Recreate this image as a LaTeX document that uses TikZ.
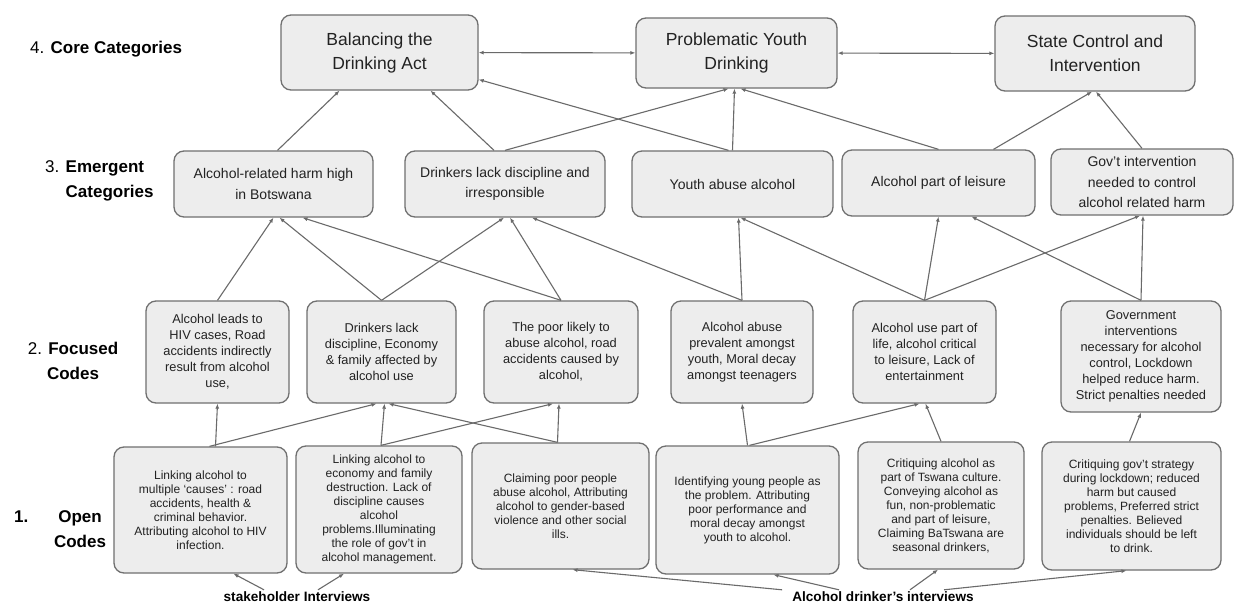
\documentclass[tikz,border=0pt]{standalone}
\usepackage{fontspec}
\setmainfont{Liberation Sans}
\usetikzlibrary{arrows.meta}
\definecolor{boxfill}{HTML}{EDEDED}
\definecolor{boxline}{HTML}{707070}
\definecolor{arrcol}{HTML}{6A6A6A}
\definecolor{txt}{HTML}{222222}
\tikzset{
  box/.style={draw=boxline, fill=boxfill, rounded corners=10pt, line width=1.3pt, align=center, inner sep=0pt, text=txt},
  corebox/.style={box, font=\fontsize{17.5}{24}\selectfont},
  emgbox/.style={box, font=\fontsize{14}{20.5}\selectfont},
  focbox/.style={box, font=\fontsize{12.8}{16}\selectfont},
  openbox/.style={box, font=\fontsize{12}{14}\selectfont},
  rowlabel/.style={font=\fontsize{17}{25}\selectfont, text=black, inner sep=0pt},
  srclabel/.style={font=\fontsize{13.6}{16}\selectfont\bfseries, text=black, inner sep=2pt},
  arr/.style={draw=arrcol, line width=1.1pt, -{Latex[length=5pt,width=4pt]}},
  biarr/.style={draw=arrcol, line width=1.1pt, {Latex[length=5pt,width=4pt]}-{Latex[length=5pt,width=4pt]}}
}
\begin{document}
\begin{tikzpicture}[x=1pt,y=1pt]
\useasboundingbox (0,0) rectangle (1234,-605);
\fill[white] (0,0) rectangle (1234,-605);

% row labels
\node[rowlabel, anchor=west] (L4) at (30,-49) {4. \textbf{Core Categories}};
\node[rowlabel, anchor=west, align=left] (L3) at (45,-181) {3. \textbf{Emergent}\\\phantom{3. }\textbf{Categories}};
\node[rowlabel, align=center] (L2) at (73,-361) {2. \textbf{Focused}\\\textbf{Codes}};
\node[rowlabel, anchor=west] (L1n) at (14,-517) {\textbf{1.}};
\node[rowlabel, align=center] (L1) at (80,-529) {\textbf{Open}\\\textbf{Codes}};

% core categories
\node[corebox, minimum width=197pt, minimum height=75pt] (B) at (379.5,-52.5) {Balancing the\\Drinking Act};
\node[corebox, minimum width=201pt, minimum height=70pt] (P) at (736.5,-53) {Problematic Youth\\Drinking};
\node[corebox, minimum width=200pt, minimum height=75pt] (S) at (1095,-53.5) {State Control and\\Intervention};

% emergent categories
\node[emgbox, minimum width=199pt, minimum height=66pt] (E1) at (273.5,-184) {Alcohol-related harm high\\in Botswana};
\node[emgbox, minimum width=200pt, minimum height=66pt] (E2) at (505,-184) {Drinkers lack discipline and\\irresponsible};
\node[emgbox, minimum width=201pt, minimum height=66pt] (E3) at (732.5,-184) {Youth abuse alcohol};
\node[emgbox, minimum width=193pt, minimum height=66pt] (E4) at (938.5,-183) {Alcohol part of leisure};
\node[emgbox, minimum width=182pt, minimum height=66pt] (E5) at (1142,-182) {Gov't intervention\\needed to control\\alcohol related harm};

% focused codes
\node[focbox, minimum width=143pt, minimum height=102pt] (F1) at (217.5,-352) {Alcohol leads to\\HIV cases, Road\\accidents indirectly\\result from alcohol\\use,};
\node[focbox, minimum width=149pt, minimum height=102pt] (F2) at (381.5,-352) {Drinkers lack\\discipline, Economy\\\& family affected by\\alcohol use};
\node[focbox, minimum width=154pt, minimum height=102pt] (F3) at (561,-352) {The poor likely to\\abuse alcohol, road\\accidents caused by\\alcohol,};
\node[focbox, minimum width=142pt, minimum height=102pt] (F4) at (742,-352) {Alcohol abuse\\prevalent amongst\\youth, Moral decay\\amongst teenagers};
\node[focbox, minimum width=143pt, minimum height=102pt] (F5) at (924.5,-352) {Alcohol use part of\\life, alcohol critical\\to leisure, Lack of\\entertainment};
\node[focbox, minimum width=160pt, minimum height=111pt] (F6) at (1141,-356.5) {Government\\interventions\\necessary for alcohol\\control, Lockdown\\helped reduce harm.\\Strict penalties needed};

% open codes
\node[openbox, minimum width=173pt, minimum height=126pt] (O1) at (200.5,-510) {Linking alcohol to\\multiple ‘causes’ : road\\accidents, health \&\\criminal behavior.\\Attributing alcohol to HIV\\infection.};
\node[openbox, minimum width=166pt, minimum height=127pt] (O2) at (379,-509.5) {Linking alcohol to\\economy and family\\destruction. Lack of\\discipline causes\\alcohol\\problems.Illuminating\\the role of gov't in\\alcohol management.};
\node[openbox, minimum width=177pt, minimum height=126pt] (O3) at (560.5,-506) {Claiming poor people\\abuse alcohol, Attributing\\alcohol to gender-based\\violence and other social\\ills.};
\node[openbox, minimum width=183pt, minimum height=128pt] (O4) at (747.5,-510) {Identifying young people as\\the problem. Attributing\\poor performance and\\moral decay amongst\\youth to alcohol.};
\node[openbox, minimum width=166pt, minimum height=127pt] (O5) at (941,-505.5) {Critiquing alcohol as\\part of Tswana culture.\\Conveying alcohol as\\fun, non-problematic\\and part of leisure,\\Claiming BaTswana are\\seasonal drinkers,};
\node[openbox, minimum width=179pt, minimum height=128pt] (O6) at (1131.5,-506) {Critiquing gov't strategy\\during lockdown; reduced\\harm but caused\\problems, Preferred strict\\penalties. Believed\\individuals should be left\\to drink.};

% source labels
\node[srclabel] (SH) at (297,-597) {stakeholder Interviews};
\node[srclabel] (AD) at (883,-597) {Alcohol drinker's interviews};

% core links
\draw[biarr] (B) -- (P);
\draw[biarr] (P) -- (S);

% emergent -> core
\draw[arr] ([xshift=4pt]E1.north) -- ([xshift=-40pt]B.south);
\draw[arr] ([xshift=-11pt]E2.north) -- ([xshift=51pt]B.south);
\draw[arr] (E2.north) -- ([xshift=-8pt]P.south);
\draw[arr] ([xshift=-4pt]E3.north) -- ([yshift=-27pt]B.east);
\draw[arr] (E3.north) -- ([xshift=-2pt]P.south);
\draw[arr] (E4.north) -- ([xshift=4pt]P.south);
\draw[arr] ([xshift=55pt]E4.north) -- ([xshift=-3pt]S.south);
\draw[arr] (E5.north) -- ([xshift=1pt]S.south);

% focused -> emergent
\draw[arr] (F1.north) -- (E1.south);
\draw[arr] (F2.north) -- ([xshift=6pt]E1.south);
\draw[arr] (F3.north) -- ([xshift=29pt]E1.south);
\draw[arr] (F2.north) -- ([xshift=-1pt]E2.south);
\draw[arr] (F3.north) -- ([xshift=5pt]E2.south);
\draw[arr] (F4.north) -- ([xshift=27pt]E2.south);
\draw[arr] (F4.north) -- ([xshift=6pt]E3.south);
\draw[arr] (F5.north) -- ([xshift=8pt]E3.south);
\draw[arr] (F5.north) -- (E4.south);
\draw[arr] (F6.north) -- ([xshift=33pt]E4.south);
\draw[arr] (F5.north) -- ([xshift=-2pt]E5.south);
\draw[arr] (F6.north) -- ([xshift=1pt]E5.south);

% open -> focused
\draw[arr] ([xshift=15pt]O1.north) -- (F1.south);
\draw[arr] ([xshift=9pt]O1.north) -- ([xshift=-5pt]F2.south);
\draw[arr] ([xshift=2pt]O2.north) -- ([xshift=3pt]F2.south);
\draw[arr] ([xshift=2pt]O2.north) -- ([xshift=-8pt]F3.south);
\draw[arr] ([xshift=-3pt]O3.north) -- ([xshift=7pt]F2.south);
\draw[arr] ([xshift=-3pt]O3.north) -- ([xshift=-2pt]F3.south);
\draw[arr] (O4.north) -- (F4.south);
\draw[arr] ([xshift=2pt]O4.north) -- ([xshift=-5pt]F5.south);
\draw[arr] (O5.north) -- ([xshift=1pt]F5.south);
\draw[arr] ([xshift=-2pt]O6.north) -- (F6.south);

% sources -> open
\draw[arr] ([xshift=-33pt]SH.north) -- ([xshift=33pt]O1.south);
\draw[arr] ([xshift=21pt]SH.north) -- ([xshift=-35pt]O2.south);
\draw[arr] ([xshift=-8pt]AD.north west) -- ([xshift=12pt]O3.south);
\draw[arr] ([xshift=-44pt]AD.north) -- ([xshift=26pt]O4.south);
\draw[arr] ([xshift=27pt]AD.north) -- ([xshift=-3pt]O5.south);
\draw[arr] ([xshift=61pt]AD.north) -- ([xshift=-5pt]O6.south);
\end{tikzpicture}
\end{document}
